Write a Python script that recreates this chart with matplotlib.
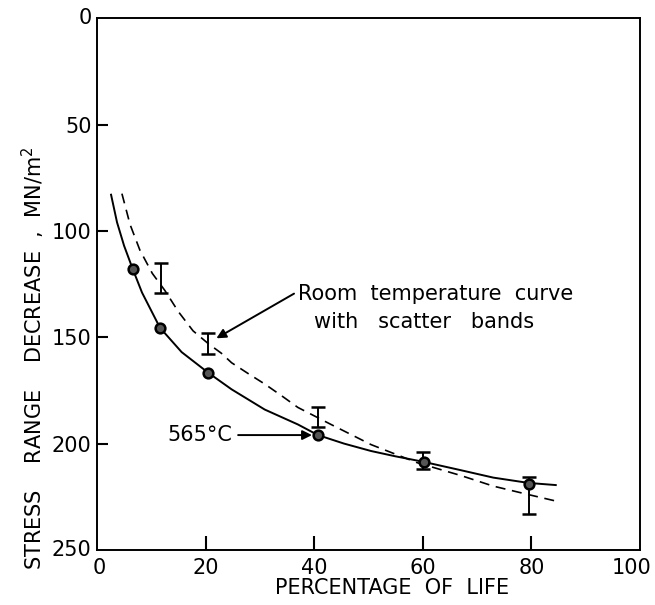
#!/usr/bin/env python3
"""
Stress range decrease vs percentage of life (565 C vs room temperature).
"""

import numpy as np
import matplotlib.pyplot as plt
import matplotlib

matplotlib.rcParams['font.family'] = 'DejaVu Sans'
matplotlib.rcParams['font.size'] = 14

# measured points at 565 C
pts_x = [6.6, 11.6, 20.5, 40.7, 60.2, 79.5]
pts_y = [118, 145.5, 166.7, 196, 208.5, 219]

# fitted curve at 565 C (solid)
hot_x = [2.6, 3.7, 5.0, 6.6, 8.3, 11.6, 15.6, 20.5, 24.8, 30.9, 37.0, 40.7,
         45.5, 50.5, 55.0, 60.0, 67.0, 73.0, 79.5, 84.5]
hot_y = [83, 96, 107, 118, 129, 145.5, 157, 166.7, 174.5, 184, 191, 196,
         200, 203.5, 206, 208.5, 212.5, 216, 218.5, 219.5]

# room temperature curve (dashed)
room_x = [4.6, 6.1, 7.9, 10.2, 12.5, 15.0, 17.7, 20.5, 22.9, 24.8, 27.8, 30.9,
          34.0, 37.0, 43.1, 50.5, 59.0, 67.0, 73.0, 79.5, 84.5]
room_y = [82.5, 97, 109, 120, 128, 138, 147, 153, 157.5, 162, 167, 172,
          177.5, 183, 191, 200.5, 209, 215, 220, 224, 227]

# room temperature scatter bands
band_x = [11.8, 20.5, 40.7, 60.1, 79.5]
band_lo = [115, 148, 183, 204, 215.5]
band_hi = [129, 158, 192, 212, 233]

x_ticks = [20, 40, 60, 80]
y_ticks = [50, 100, 150, 200]


def plot_stress():
    fig = plt.figure(figsize=(6.55, 6.05), dpi=100)
    ax = fig.add_axes([0.148, 0.091, 0.829, 0.879])

    ax.plot(hot_x, hot_y, '-', color='black', linewidth=1.4)
    ax.plot(room_x, room_y, '--', color='black', linewidth=1.2, dashes=(6, 4))

    lo = np.array(band_lo)
    hi = np.array(band_hi)
    mid = (lo + hi) / 2
    ax.errorbar(band_x, mid, yerr=(hi - lo) / 2, fmt='none', ecolor='black',
                elinewidth=1.4, capsize=5, capthick=1.8)

    ax.plot(pts_x, pts_y, 'o', color='black', markersize=7, markerfacecolor='#555555',
            markeredgewidth=1.8)

    ax.set_xlim(0, 100)
    ax.set_ylim(250, 0)
    ax.set_xticks(x_ticks)
    ax.set_yticks(y_ticks)
    ax.tick_params(axis='both', direction='in', width=1.5, labelsize=15)
    ax.tick_params(axis='x', length=10, pad=6)
    ax.tick_params(axis='y', length=8, pad=4)
    for s in ax.spines.values():
        s.set_linewidth(1.4)

    # end labels drawn separately so they sit like the original
    ax.text(-1.0, 0, '0', ha='right', va='center', fontsize=15)
    ax.text(-1.0, 250, '250', ha='right', va='center', fontsize=15)
    ax.text(0.5, 254, '0', ha='center', va='top', fontsize=15)
    ax.text(98.5, 254, '100', ha='center', va='top', fontsize=15)

    ax.annotate('', xy=(22.0, 150.5), xytext=(36.3, 129.5),
                arrowprops=dict(arrowstyle='-|>', color='black', lw=1.4,
                                mutation_scale=14, shrinkA=0, shrinkB=0))
    ax.text(37.0, 129.5, 'Room  temperature  curve', ha='left', va='center', fontsize=15)
    ax.text(40.0, 143.0, 'with   scatter   bands', ha='left', va='center', fontsize=15)

    ax.annotate('', xy=(39.6, 196), xytext=(26.0, 196),
                arrowprops=dict(arrowstyle='-|>', color='black', lw=1.4,
                                mutation_scale=14, shrinkA=0, shrinkB=0))
    ax.text(25.0, 196, '565°C', ha='right', va='center', fontsize=15)

    fig.text(392 / 655, 1 - 588 / 605, 'PERCENTAGE  OF  LIFE', ha='center', va='center',
             fontsize=15)
    fig.text(33 / 655, 1 - 358 / 605, 'STRESS    RANGE    DECREASE  ,  MN/m$^2$', ha='center',
             va='center', rotation=90, fontsize=15)

    fig.savefig('out.png', dpi=100)
    plt.close(fig)


if __name__ == "__main__":
    plot_stress()
